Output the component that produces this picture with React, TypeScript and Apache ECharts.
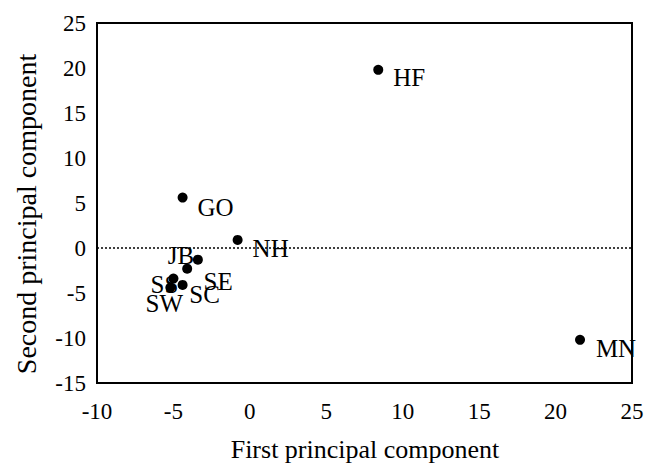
import React, { useEffect, useRef } from "react";
import * as echarts from "echarts";

const names = ["HF", "MN", "GO", "NH", "JB", "SE", "SS", "SC", "SW"];
const pc1 = [8.4, 21.6, -4.4, -0.8, -3.4, -4.1, -5.0, -4.4, -5.2];
const pc2 = [19.8, -10.2, 5.6, 0.9, -1.3, -2.3, -3.4, -4.1, -4.4];
const xTicks = [-10, -5, 0, 5, 10, 15, 20, 25];
const yTicks = [-15, -10, -5, 0, 5, 10, 15, 20, 25];
const xTitle = "First principal component";
const yTitle = "Second principal component";
const labelOffsets: number[][] = [
  [31, 8],
  [36, 9],
  [33, 10],
  [33, 9],
  [-17, -4],
  [31, 13],
  [-9, 6],
  [22, 10],
  [-6, 16],
];

const FONT = "Liberation Serif";

export default function App() {
  const ref = useRef<HTMLDivElement>(null);
  useEffect(() => {
    if (!ref.current) return;
    const chart = echarts.init(ref.current, null, { renderer: "svg" });
    const data = names.map((n, i) => ({
      value: [pc1[i], pc2[i]],
      name: n,
      label: { offset: labelOffsets[i] },
    }));
    chart.setOption({
      animation: false,
      backgroundColor: "#ffffff",
      textStyle: { fontFamily: FONT },
      grid: {
        left: 97,
        right: 18,
        top: 23,
        bottom: 81,
        show: true,
        borderColor: "#000",
        borderWidth: 2,
        backgroundColor: "transparent",
      },
      graphic: [
        {
          type: "text",
          x: 365,
          y: 449,
          style: {
            text: xTitle,
            fill: "#000",
            font: "26px 'Liberation Serif'",
            align: "center",
            verticalAlign: "middle",
          },
        },
        {
          type: "text",
          x: 26,
          y: 214,
          rotation: Math.PI / 2,
          style: {
            text: yTitle,
            fill: "#000",
            font: "28px 'Liberation Serif'",
            align: "center",
            verticalAlign: "middle",
          },
        },
      ],
      xAxis: {
        type: "value",
        min: xTicks[0],
        max: xTicks[xTicks.length - 1],
        interval: 5,
        splitLine: { show: false },
        axisTick: { show: false },
        axisLine: { show: true, onZero: false, lineStyle: { color: "#000", width: 2 } },
        axisLabel: { color: "#000", fontFamily: FONT, fontSize: 23, margin: 17 },
      },
      yAxis: {
        type: "value",
        min: yTicks[0],
        max: yTicks[yTicks.length - 1],
        interval: 5,
        splitLine: { show: false },
        axisTick: { show: false },
        axisLine: { show: true, onZero: false, lineStyle: { color: "#000", width: 2 } },
        axisLabel: { color: "#000", fontFamily: FONT, fontSize: 23, margin: 11 },
      },
      series: [
        {
          type: "scatter",
          data,
          symbol: "circle",
          symbolSize: 10,
          itemStyle: { color: "#000", opacity: 1 },
          label: {
            show: true,
            position: "inside",
            align: "center",
            verticalAlign: "middle",
            formatter: "{b}",
            color: "#000",
            textBorderWidth: 0,
            fontFamily: FONT,
            fontSize: 25,
          },
          markLine: {
            silent: true,
            symbol: "none",
            label: { show: false },
            lineStyle: { color: "#000", type: [2, 2], width: 1.5, opacity: 1 },
            data: [{ yAxis: 0 }],
          },
        },
      ],
    });
    return () => chart.dispose();
  }, []);
  return (
    <div
      ref={ref}
      style={{ width: 650, height: 464, position: "absolute", left: 0, top: 0 }}
    />
  );
}
